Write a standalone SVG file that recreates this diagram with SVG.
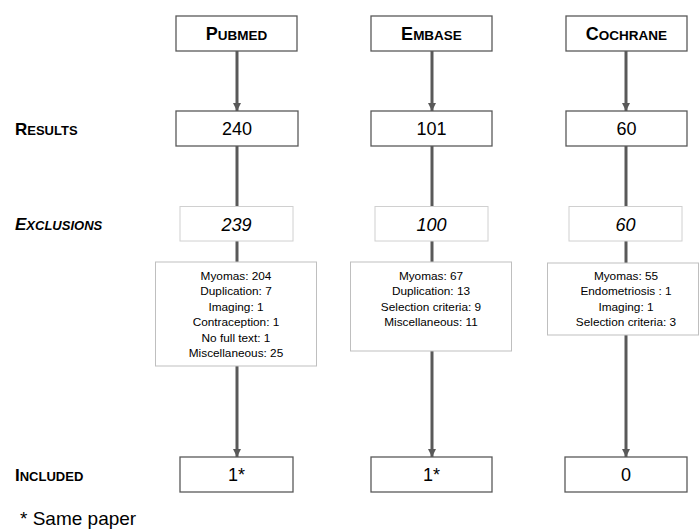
<svg xmlns="http://www.w3.org/2000/svg" width="699" height="530" viewBox="0 0 699 530">
<style>
.box{fill:#fff;stroke:#595959;stroke-width:1.3}
.lbox{fill:#fff;stroke:#d0d0d0;stroke-width:1}
.dbox{fill:#fff;stroke:#bfbfbf;stroke-width:1}
.hd{font-family:"Liberation Sans",Arial,sans-serif;font-weight:bold;fill:#000;font-size:13.5px}
.hd .big{font-size:18px}
.lab{font-family:"Liberation Sans",Arial,sans-serif;font-weight:bold;fill:#000;font-size:13px}
.lab .big{font-size:17px}
.num{font-family:"Liberation Sans",Arial,sans-serif;font-size:18px;fill:#000;text-anchor:middle}
.it{font-style:italic}
.det{font-family:"Liberation Sans",Arial,sans-serif;font-size:11.8px;fill:#000;text-anchor:middle}
.ln{stroke:#595959;stroke-width:3;fill:none}
.note{font-family:"Liberation Sans",Arial,sans-serif;font-size:19px;fill:#000}
</style>
<defs>
<marker id="ah" markerUnits="userSpaceOnUse" markerWidth="8" markerHeight="8" refX="8" refY="4" orient="auto">
<path d="M0,0 L8,4 L0,8 z" fill="#595959"/>
</marker>
</defs>
<g id="connectors">
<line class="ln" x1="237" y1="51" x2="237" y2="111" marker-end="url(#ah)"/>
<line class="ln" x1="237" y1="146" x2="237" y2="206"/>
<line class="ln" x1="237" y1="241" x2="237" y2="262"/>
<line class="ln" x1="237" y1="366" x2="237" y2="457" marker-end="url(#ah)"/>
<line class="ln" x1="432" y1="51" x2="432" y2="111" marker-end="url(#ah)"/>
<line class="ln" x1="432" y1="146" x2="432" y2="206"/>
<line class="ln" x1="432" y1="241" x2="432" y2="262"/>
<line class="ln" x1="432" y1="351" x2="432" y2="457" marker-end="url(#ah)"/>
<line class="ln" x1="626" y1="51" x2="626" y2="111" marker-end="url(#ah)"/>
<line class="ln" x1="626" y1="146" x2="626" y2="206"/>
<line class="ln" x1="626" y1="241" x2="626" y2="263"/>
<line class="ln" x1="626" y1="335" x2="626" y2="457" marker-end="url(#ah)"/>
</g>
<g id="label-results"><text class="lab" x="15" y="135"><tspan class="big">R</tspan>ESULTS</text></g>
<g id="label-exclusions"><text class="lab it" x="15" y="230"><tspan class="big">E</tspan>XCLUSIONS</text></g>
<g id="label-included"><text class="lab" x="15" y="481"><tspan class="big">I</tspan>NCLUDED</text></g>
<g id="pubmed"><rect class="box" x="176" y="16" width="121" height="35"/><text class="hd" x="236.5" y="40" text-anchor="middle"><tspan class="big">P</tspan>UBMED</text></g>
<g id="embase"><rect class="box" x="371" y="16" width="121" height="35"/><text class="hd" x="431.5" y="40" text-anchor="middle"><tspan class="big">E</tspan>MBASE</text></g>
<g id="cochrane"><rect class="box" x="566" y="16" width="121" height="35"/><text class="hd" x="626.5" y="40" text-anchor="middle"><tspan class="big">C</tspan>OCHRANE</text></g>
<g id="pubmed-results"><rect class="box" x="176" y="111" width="122" height="35"/><text class="num" x="237" y="135">240</text></g>
<g id="embase-results"><rect class="box" x="371" y="111" width="121" height="35"/><text class="num" x="431.5" y="135">101</text></g>
<g id="cochrane-results"><rect class="box" x="566" y="111" width="121" height="35"/><text class="num" x="626.5" y="135">60</text></g>
<g id="pubmed-exclusions"><rect class="lbox" x="180" y="206.5" width="113" height="34.5"/><text class="num it" x="236.5" y="230.5">239</text></g>
<g id="embase-exclusions"><rect class="lbox" x="375" y="206.5" width="113" height="34.5"/><text class="num it" x="431.5" y="230.5">100</text></g>
<g id="cochrane-exclusions"><rect class="lbox" x="569" y="206.5" width="113" height="34.5"/><text class="num it" x="625.5" y="230.5">60</text></g>
<g id="pubmed-details"><rect class="dbox" x="155.5" y="262" width="161" height="104"/>
<text class="det" x="236" y="279.5">Myomas: 204</text>
<text class="det" x="236" y="295">Duplication: 7</text>
<text class="det" x="236" y="310.5">Imaging: 1</text>
<text class="det" x="236" y="326">Contraception: 1</text>
<text class="det" x="236" y="341.5">No full text: 1</text>
<text class="det" x="236" y="357">Miscellaneous: 25</text></g>
<g id="embase-details"><rect class="dbox" x="350.5" y="262" width="161" height="89"/>
<text class="det" x="431" y="279.5">Myomas: 67</text>
<text class="det" x="431" y="295">Duplication: 13</text>
<text class="det" x="431" y="310.5">Selection criteria: 9</text>
<text class="det" x="431" y="326">Miscellaneous: 11</text></g>
<g id="cochrane-details"><rect class="dbox" x="547.5" y="263" width="151" height="72"/>
<text class="det" x="626" y="279.5">Myomas: 55</text>
<text class="det" x="626" y="295">Endometriosis : 1</text>
<text class="det" x="626" y="310.5">Imaging: 1</text>
<text class="det" x="626" y="326">Selection criteria: 3</text></g>
<g id="pubmed-included"><rect class="box" x="180" y="457" width="113" height="35"/><text class="num" x="236.5" y="481">1*</text></g>
<g id="embase-included"><rect class="box" x="371" y="457" width="121" height="35"/><text class="num" x="431.5" y="481">1*</text></g>
<g id="cochrane-included"><rect class="box" x="565" y="457" width="122" height="35"/><text class="num" x="626" y="481">0</text></g>
<g id="footnote"><text class="note" x="20" y="525">* Same paper</text></g>
</svg>
